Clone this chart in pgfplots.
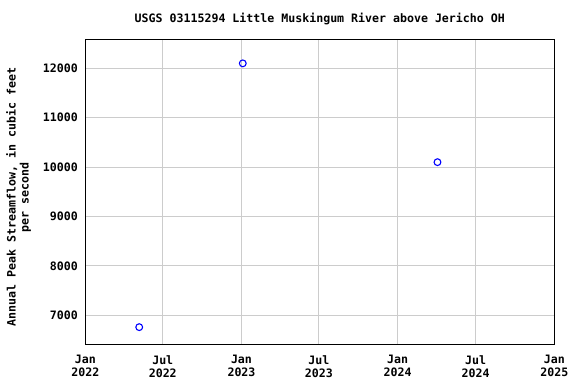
\documentclass[border=0pt]{standalone}
\usepackage{fontspec}
\setmainfont{DejaVu Sans Mono}
\usepackage{pgfplots}
\pgfplotsset{compat=1.18}
\newcommand{\lblfont}{\fontsize{11.6bp}{13bp}\selectfont\bfseries}
\begin{document}
\begin{tikzpicture}
\useasboundingbox (-85.3bp,-40bp) rectangle (490.7bp,344bp);
\begin{axis}[
  at={(0,0)}, anchor=south west,
  scale only axis, width=469bp, height=304.7bp,
  xmin=0, xmax=1096, ymin=6419, ymax=12587,
  scaled y ticks=false,
  xtick={0,181,365,546,730,912,1096},
  xticklabels={Jan\\2022,Jul\\2022,Jan\\2023,Jul\\2023,Jan\\2024,Jul\\2024,Jan\\2025},
  ytick={7000,8000,9000,10000,11000,12000},
  yticklabels={7000,8000,9000,10000,11000,12000},
  grid=major, grid style={color=black!20, line width=0.9bp},
  major tick length=0pt,
  axis line style={line width=1bp},
  tick label style={font=\lblfont},
  xticklabel style={align=center, yshift=-8bp},
  yticklabel style={xshift=-4bp},
  title={USGS 03115294 Little Muskingum River above Jericho OH},
  title style={font=\lblfont, at={(axis description cs:0.5,1)}, anchor=base, yshift=10.5bp},
  ylabel={Annual Peak Streamflow, in cubic feet\\per second},
  ylabel style={font=\lblfont, align=center, at={(axis description cs:-0.1424,0.482)}, anchor=center},
]
\addplot[only marks, mark=o, mark size=3.4bp, mark options={line width=1.1bp, color=blue}, color=blue]
  coordinates {(126,6760) (368,12100) (823,10100)};
\end{axis}
\end{tikzpicture}
\end{document}
